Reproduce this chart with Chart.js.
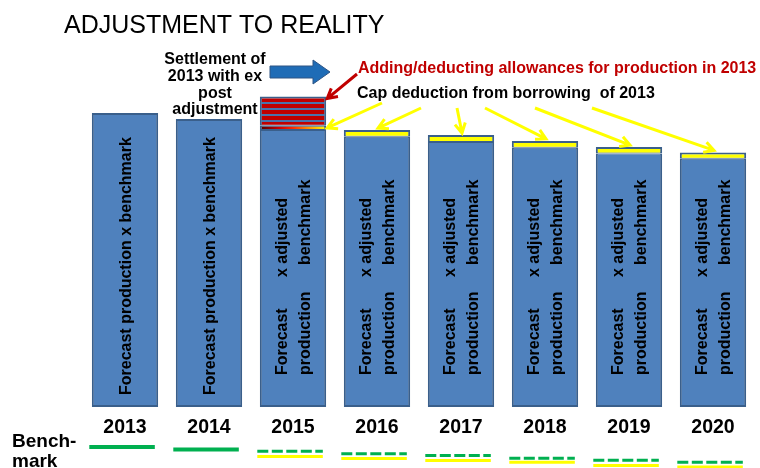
<!DOCTYPE html>
<html>
<head>
<meta charset="utf-8">
<title>Adjustment to reality</title>
<script src="https://cdn.jsdelivr.net/npm/chart.js@4.4.1/dist/chart.umd.min.js"></script>
<style>
  html, body { margin: 0; padding: 0; background: #fff; }
  #wrap { width: 760px; height: 468px; }
</style>
</head>
<body>
<div id="wrap"><canvas id="chart" width="760" height="468"></canvas></div>
<script>
// years along the axis
const years = ['2013', '2014', '2015', '2016', '2017', '2018', '2019', '2020'];
// forecast production x (adjusted) benchmark, indexed 2013 = 100
const baseAllowance = [100, 98.0, 94.2, 91.9, 90.1, 88.2, 86.2, 84.4];
// cap deduction from borrowing of 2013 (yellow band on top)
const capDeduction = [null, null, 1.5, 2.3, 2.4, 2.3, 2.2, 2.2];
// settlement of 2013 with ex post adjustment (red stripes)
const expostAdjustment = [null, null, 9.9, null, null, null, null, null];
// benchmark marks below the years
const benchmark = [100, 98.4, 97.3, 95.6, 94.5, 92.8, 91.5, 90.2];
const adjustedBenchmark = [null, null, 93.9, 92.6, 91.3, 90.1, 88.1, 87.1];

const FONT = 'Liberation Sans, Arial, sans-serif';
const BAR_PCT = 0.79;

// short horizontal segment under each year, gap between years
function benchSegments(values, fromIdx, toIdx) {
    const pts = [];
    values.forEach((v, i) => {
        if (v === null || i < fromIdx || i > toIdx) return;
        pts.push({ x: i - 0.425, y: v }, { x: i + 0.355, y: v }, { x: i + 0.5, y: null });
    });
    return pts;
}

// red stripes for the ex post adjustment
function stripePattern() {
    const cv = document.createElement('canvas');
    cv.width = 4;
    cv.height = 6;
    const g = cv.getContext('2d');
    g.fillStyle = '#4a74ad';
    g.fillRect(0, 0, 4, 6);
    g.fillStyle = '#c00000';
    g.fillRect(0, 2, 4, 4);
    return g.createPattern(cv, 'repeat');
}

function capColor(ctx) {
    const i = ctx.dataIndex;
    const chart = ctx.chart;
    if (expostAdjustment[i] === null || !chart.chartArea || !chart.scales.x) return '#ffff00';
    const xs = chart.scales.x;
    const cx = xs.getPixelForValue(i);
    const half = xs.width / years.length * BAR_PCT / 2;
    const g = chart.ctx.createLinearGradient(cx - half, 0, cx + half, 0);
    g.addColorStop(0, '#4a0000');
    g.addColorStop(0.3, '#d00000');
    g.addColorStop(0.5, '#ff2a00');
    g.addColorStop(0.75, '#ff9900');
    g.addColorStop(1, '#ffff00');
    return g;
}

function arrow(c, x1, y1, x2, y2, color, w, head) {
    const a = Math.atan2(y2 - y1, x2 - x1);
    c.strokeStyle = color;
    c.lineWidth = w;
    c.lineJoin = 'miter';
    c.beginPath();
    c.moveTo(x1, y1);
    c.lineTo(x2, y2);
    c.moveTo(x2 - head * Math.cos(a - 0.5), y2 - head * Math.sin(a - 0.5));
    c.lineTo(x2, y2);
    c.lineTo(x2 - head * Math.cos(a + 0.5), y2 - head * Math.sin(a + 0.5));
    c.stroke();
}

function rotText(c, text, x, y) {
    c.save();
    c.translate(x, y);
    c.rotate(-Math.PI / 2);
    c.fillText(text, 0, 0);
    c.restore();
}

// titles, notes, arrows and the text inside the bars
const notesPlugin = {
    id: 'notes',
    afterDatasetsDraw(chart) {
        const c = chart.ctx;
        const y0 = chart.scales.y.getPixelForValue(0);
        c.save();

        c.fillStyle = '#000';
        c.textAlign = 'left';
        c.textBaseline = 'alphabetic';
        c.font = `25px ${FONT}`;
        c.fillText('ADJUSTMENT TO REALITY', 64, 33);

        // left note + blue arrow
        c.font = `bold 16px ${FONT}`;
        c.textAlign = 'center';
        c.textBaseline = 'middle';
        ['Settlement of', '2013 with ex', 'post', 'adjustment'].forEach((t, k) => {
            c.fillText(t, 215, 60 + k * 16.6);
        });
        c.beginPath();
        c.moveTo(270, 66);
        c.lineTo(313, 66);
        c.lineTo(313, 60);
        c.lineTo(330, 72);
        c.lineTo(313, 84);
        c.lineTo(313, 78);
        c.lineTo(270, 78);
        c.closePath();
        c.fillStyle = '#1f6cb6';
        c.fill();
        c.strokeStyle = '#2e5484';
        c.lineWidth = 1;
        c.stroke();

        // notes on the right
        c.textAlign = 'left';
        c.textBaseline = 'alphabetic';
        c.fillStyle = '#c00000';
        c.fillText('Adding/deducting allowances for production in 2013', 358, 73);
        c.fillStyle = '#000';
        c.fillText('Cap deduction from borrowing  of 2013', 357, 98);

        const capEls = chart.getDatasetMeta(1).data;
        const adjEls = chart.getDatasetMeta(2).data;

        // red arrow to the ex post stripes
        const iAdj = expostAdjustment.findIndex(v => v !== null);
        const ea = adjEls[iAdj];
        arrow(c, 357, 74, ea.x + ea.width / 2 + 1, ea.y + 2, '#c00000', 3, 11);

        // yellow arrows to the cap deductions
        const starts = [[382, 103], [421, 108], [457, 108], [485, 108], [535, 108], [592, 108]];
        let k = 0;
        capDeduction.forEach((v, i) => {
            if (v === null) return;
            const el = capEls[i];
            const s = starts[k++];
            if (expostAdjustment[i] !== null) {
                arrow(c, s[0], s[1], el.x + el.width / 2 + 1, (el.y + el.base) / 2, '#ffff00', 3, 11);
            } else {
                arrow(c, s[0], s[1], el.x + 1, el.y - 2, '#ffff00', 3, 11);
            }
        });

        // text inside the bars
        const baseEls = chart.getDatasetMeta(0).data;
        c.fillStyle = '#000';
        c.font = `bold 16px ${FONT}`;
        c.textAlign = 'left';
        c.textBaseline = 'middle';
        baseEls.forEach((el, i) => {
            if (capDeduction[i] === null) {
                rotText(c, 'Forecast production x benchmark', el.x + 2, y0 - 12);
            } else {
                rotText(c, 'Forecast', el.x - 10, y0 - 32);
                rotText(c, 'production', el.x + 12.5, y0 - 32);
                rotText(c, 'x adjusted', el.x - 10, y0 - 130);
                rotText(c, 'benchmark', el.x + 12.5, y0 - 142);
            }
        });

        // benchmark row label
        c.font = `bold 19px ${FONT}`;
        c.textBaseline = 'alphabetic';
        c.fillText('Bench-', 12, 447);
        c.fillText('mark', 12, 467);

        c.restore();
    }
};

const barCommon = {
    type: 'bar',
    borderColor: '#3a5f8b',
    borderSkipped: false,
    grouped: false,
    categoryPercentage: 1,
    barPercentage: BAR_PCT,
    stack: 'alloc'
};

new Chart(document.getElementById('chart'), {
    type: 'bar',
    data: {
        labels: years,
        datasets: [
            Object.assign({}, barCommon, {
                label: 'Forecast production x benchmark',
                data: baseAllowance,
                backgroundColor: '#4f81bd',
                borderWidth: ctx => ({ top: capDeduction[ctx.dataIndex] === null ? 2 : 1, left: 2, right: 2, bottom: 2 })
            }),
            Object.assign({}, barCommon, {
                label: 'Cap deduction from borrowing of 2013',
                data: capDeduction,
                backgroundColor: capColor,
                borderWidth: ctx => ({ top: expostAdjustment[ctx.dataIndex] === null ? 2 : 1, left: 2, right: 2, bottom: 1 })
            }),
            Object.assign({}, barCommon, {
                label: 'Settlement of 2013 with ex post adjustment',
                data: expostAdjustment,
                backgroundColor: stripePattern(),
                borderWidth: { top: 2, left: 2, right: 2, bottom: 1 }
            }),
            {
                type: 'line',
                label: 'Benchmark',
                data: benchSegments(benchmark, 0, 1),
                xAxisID: 'xb',
                yAxisID: 'yb',
                borderColor: '#00b050',
                borderWidth: 4,
                pointRadius: 0,
                spanGaps: false,
                fill: false
            },
            {
                type: 'line',
                label: 'Benchmark (dashed)',
                data: benchSegments(benchmark, 2, 7),
                xAxisID: 'xb',
                yAxisID: 'yb',
                borderColor: '#00b050',
                borderWidth: 3,
                borderDash: [11, 3.5],
                pointRadius: 0,
                spanGaps: false,
                fill: false
            },
            {
                type: 'line',
                label: 'Adjusted benchmark',
                data: benchSegments(adjustedBenchmark, 0, 7),
                xAxisID: 'xb',
                yAxisID: 'yb',
                borderColor: '#ffff00',
                borderWidth: 3,
                pointRadius: 0,
                spanGaps: false,
                fill: false
            }
        ]
    },
    options: {
        responsive: false,
        animation: false,
        events: [],
        layout: { padding: { left: 83, right: 5, top: 0, bottom: 0 } },
        plugins: {
            legend: { display: false },
            tooltip: { enabled: false },
            title: { display: false }
        },
        scales: {
            x: {
                type: 'category',
                stacked: true,
                position: { y: 0 },
                grid: { display: false, drawTicks: false },
                border: { display: false },
                ticks: {
                    color: '#000',
                    padding: 9,
                    font: { family: FONT, size: 19.5, weight: 'bold' }
                }
            },
            y: { stacked: true, display: false, bounds: 'data', min: -20.75, max: 138.44 },
            xb: { type: 'linear', display: false, offset: false, bounds: 'data', min: -0.5, max: 7.5 },
            yb: { type: 'linear', display: false, offset: false, bounds: 'data', min: 86.45, max: 388.39 }
        }
    },
    plugins: [notesPlugin]
});
</script>
</body>
</html>
